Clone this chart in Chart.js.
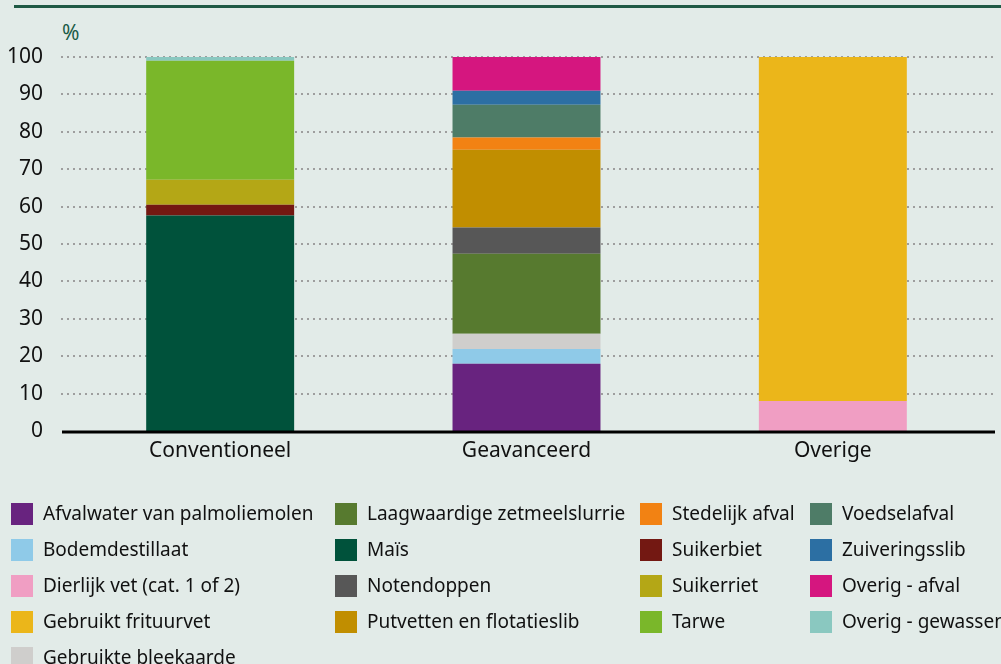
<!DOCTYPE html>
<html>
<head>
<meta charset="utf-8">
<script src="https://cdn.jsdelivr.net/npm/chart.js@4"></script>
<style>
  html, body { margin:0; padding:0; background:#e2ebe8; }
  #wrap { position:relative; width:1001px; height:664px; overflow:hidden; background:#e2ebe8; font-family:"Noto Sans", sans-serif; }
  #topline { position:absolute; left:14px; top:5px; width:987px; height:3px; background:#1f5a45; }
  #unit { position:absolute; left:62px; top:18px; font-size:21px; color:#1a5c47; }
  canvas { position:absolute; left:0; top:0; }
  .lg { position:absolute; font-size:19px; color:#111; white-space:nowrap; line-height:22px; }
  .lg span.sw { position:absolute; width:22px; height:22px; top:0; }
  .lg span.tx { position:absolute; top:-1px; }
</style>
</head>
<body>
<div id="wrap">
  <div id="topline"></div>
  <div id="unit">%</div>
  <canvas id="c" width="1001" height="664"></canvas>
  <div id="legend"></div>
</div>
<script>
const categories = ["Conventioneel", "Geavanceerd", "Overige"];
const yTicks = [0,10,20,30,40,50,60,70,80,90,100];

const afvalwaterPalmolie   = [0, 18.0, 0];
const bodemdestillaat      = [0, 3.9, 0];
const dierlijkVet          = [0, 0, 8.0];
const gebruiktFrituurvet   = [0, 0, 92.0];
const gebruikteBleekaarde  = [0, 4.1, 0];
const laagwaardigeSlurrie  = [0, 21.4, 0];
const mais                 = [57.6, 0, 0];
const notendoppen          = [0, 7.0, 0];
const putvetten            = [0, 20.8, 0];
const stedelijkAfval       = [0, 3.3, 0];
const suikerbiet           = [2.9, 0, 0];
const suikerriet           = [6.7, 0, 0];
const tarwe                = [31.8, 0, 0];
const voedselafval         = [0, 8.7, 0];
const zuiveringsslib       = [0, 3.8, 0];
const overigAfval          = [0, 9.0, 0];
const overigGewassen       = [1.0, 0, 0];

const seriesNames = ["Afvalwater van palmoliemolen","Bodemdestillaat","Dierlijk vet (cat. 1 of 2)","Gebruikt frituurvet","Gebruikte bleekaarde",
  "Laagwaardige zetmeelslurrie","Maïs","Notendoppen","Putvetten en flotatieslib",
  "Stedelijk afval","Suikerbiet","Suikerriet","Tarwe",
  "Voedselafval","Zuiveringsslib","Overig - afval","Overig - gewassen"];
const seriesValues = [afvalwaterPalmolie,bodemdestillaat,dierlijkVet,gebruiktFrituurvet,gebruikteBleekaarde,
  laagwaardigeSlurrie,mais,notendoppen,putvetten,
  stedelijkAfval,suikerbiet,suikerriet,tarwe,
  voedselafval,zuiveringsslib,overigAfval,overigGewassen];
const seriesColors = ["#68237f","#8fcae8","#f09ec3","#ebb61a","#cfcecc",
  "#577a2f","#00523b","#575757","#c18e00",
  "#f28213","#731812","#b4a716","#7ab72a",
  "#4e7c67","#2c6fa3","#d5167f","#8ac8c0"];

// legend layout: columns
const legendCols = [[0,1,2,3,4],[5,6,7,8],[9,10,11,12],[13,14,15,16]];
const colX = [11, 335, 640, 810];
const lg = document.getElementById('legend');
legendCols.forEach((col, ci) => {
  col.forEach((si, ri) => {
    const d = document.createElement('div');
    d.className = 'lg';
    d.style.left = colX[ci] + 'px';
    d.style.top = (503 + ri*36) + 'px';
    d.innerHTML = '<span class="sw" style="left:0;background:' + seriesColors[si] + '"></span><span class="tx" style="left:32px">' + seriesNames[si] + '</span>';
    lg.appendChild(d);
  });
});

const gridPlugin = {
  id: 'extGrid',
  beforeDatasetsDraw(chart) {
    const ctx = chart.ctx, y = chart.scales.y;
    ctx.save();
    ctx.strokeStyle = '#9e9e9e';
    ctx.lineWidth = 2;
    ctx.setLineDash([2,4]);
    yTicks.forEach(v => {
      if (v === 0) return;
      const py = Math.round(y.getPixelForValue(v));
      ctx.beginPath(); ctx.moveTo(61, py); ctx.lineTo(997, py); ctx.stroke();
    });
    ctx.restore();
  },
  afterDatasetsDraw(chart) {
    const ctx = chart.ctx, y = chart.scales.y;
    const py = y.getPixelForValue(0) + 1;
    ctx.save();
    ctx.strokeStyle = '#000';
    ctx.lineWidth = 3;
    ctx.beginPath(); ctx.moveTo(62, py); ctx.lineTo(995, py); ctx.stroke();
    ctx.restore();
  }
};

new Chart(document.getElementById('c'), {
  type: 'bar',
  data: {
    labels: categories,
    datasets: seriesNames.map((n, i) => ({
      label: n, data: seriesValues[i], backgroundColor: seriesColors[i],
      borderWidth: 0, categoryPercentage: 1, barPercentage: 0.483
    }))
  },
  options: {
    responsive: false, animation: false,
    layout: { padding: { top: 57, right: 15, left: 0, bottom: 0 } },
    plugins: { legend: { display: false }, tooltip: { enabled: false } },
    scales: {
      x: {
        stacked: true,
        grid: { display: false, drawTicks: false },
        border: { display: false },
        ticks: { color: '#111', font: { family: 'Noto Sans', size: 21 }, padding: 7 },
        afterFit(s) { s.height = 233; }
      },
      y: {
        stacked: true, min: 0, max: 100,
        afterBuildTicks(s) { s.ticks = yTicks.map(v => ({ value: v })); },
        grid: { display: false, drawTicks: false },
        border: { display: false },
        ticks: { color: '#111', font: { family: 'Noto Sans', size: 21 }, padding: 24 },
        afterFit(s) { s.width = 67; }
      }
    }
  },
  plugins: [gridPlugin]
});
</script>
</body>
</html>
